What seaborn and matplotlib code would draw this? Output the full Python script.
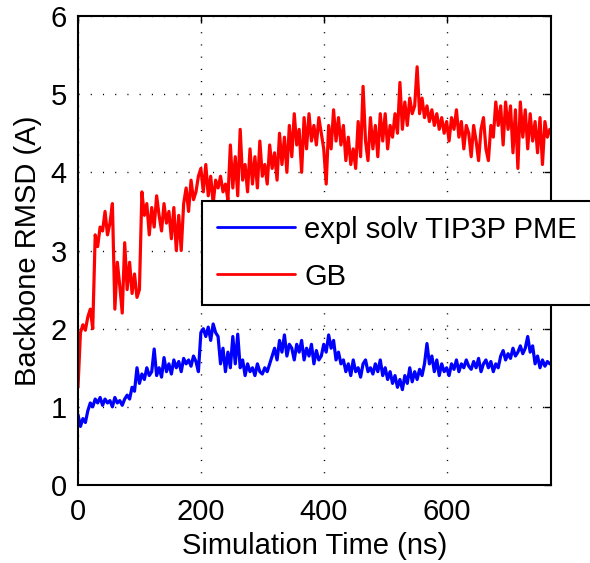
import numpy as np
import pandas as pd
import seaborn as sns
import matplotlib.pyplot as plt

# время моделирования, шаг 4 нс
time_ns = np.arange(0, 772, 4)

# RMSD, явный растворитель
rmsd_expl = [
    0.9, 0.75, 0.85, 0.8, 0.95, 1.05, 1.0, 1.1, 1.05, 1.12,
    1.02, 1.1, 1.05, 1.08, 1.0, 1.12, 1.05, 1.08, 1.02, 1.1,
    1.15, 1.1, 1.25, 1.2, 1.5, 1.3, 1.42, 1.35, 1.5, 1.4,
    1.45, 1.74, 1.4, 1.5, 1.38, 1.63, 1.45, 1.55, 1.42, 1.6,
    1.5, 1.58, 1.45, 1.62, 1.55, 1.6, 1.52, 1.65, 1.58, 1.45,
    1.95, 2.0, 1.9, 2.02, 1.85, 2.06, 1.95, 1.9, 1.55, 1.75,
    1.45, 1.7, 1.5, 1.9, 1.55, 1.93, 1.5, 1.6, 1.4, 1.55,
    1.45, 1.5, 1.4, 1.55, 1.45, 1.42, 1.5, 1.45, 1.55, 1.65,
    1.75, 1.6, 1.85, 1.7, 1.92, 1.65, 1.8, 1.75, 1.6, 1.8,
    1.7, 1.85, 1.6, 1.75, 1.65, 1.8, 1.55, 1.72, 1.6, 1.65,
    1.8, 1.7, 1.92, 1.75, 1.85, 1.6, 1.7, 1.55, 1.6, 1.45,
    1.55, 1.4, 1.6, 1.45, 1.5, 1.38, 1.55, 1.6, 1.45, 1.5,
    1.42, 1.55, 1.45, 1.6, 1.4, 1.5, 1.35, 1.45, 1.3, 1.4,
    1.25, 1.35, 1.22, 1.4, 1.3, 1.5, 1.32, 1.45, 1.35, 1.48,
    1.4, 1.55, 1.81, 1.55, 1.65, 1.45, 1.6, 1.4, 1.55, 1.45,
    1.5, 1.4, 1.55, 1.48, 1.6, 1.45, 1.55, 1.5, 1.6, 1.52,
    1.48, 1.58, 1.5, 1.62, 1.45, 1.55, 1.6, 1.5, 1.58, 1.45,
    1.55, 1.5, 1.65, 1.72, 1.6, 1.68, 1.62, 1.75, 1.65, 1.7,
    1.78, 1.68, 1.75, 1.9, 1.7, 1.78, 1.55, 1.65, 1.5, 1.6,
    1.52, 1.58, 1.55,
]

# RMSD, GB
rmsd_gb = [
    1.25, 1.95, 2.05, 1.98, 2.15, 2.25, 2.0, 3.2, 3.05, 3.3,
    3.25, 3.5, 3.2, 3.35, 3.6, 2.25, 2.85, 2.55, 2.2, 3.1,
    2.5, 2.85, 2.45, 2.7, 2.4, 2.5, 3.75, 3.45, 3.6, 3.2,
    3.55, 3.3, 3.7, 3.45, 3.25, 3.6, 3.35, 3.5, 3.15, 3.55,
    3.0, 3.45, 3.0, 3.6, 3.8, 3.5, 3.9, 3.65, 3.75, 3.95,
    4.05, 3.75, 4.1, 3.7, 3.95, 3.6, 3.9, 3.8, 3.95, 3.75,
    3.85, 3.65, 4.35, 3.8, 4.2, 3.7, 4.55, 3.9, 4.1, 3.75,
    4.3, 3.85, 4.2, 3.8, 4.4, 3.95, 4.1, 3.85, 4.35, 4.05,
    4.25, 3.9, 4.5, 4.1, 4.45, 4.0, 4.6, 4.2, 4.75, 4.35,
    4.55, 4.0, 4.7, 4.3, 4.75, 4.4, 4.6, 4.35, 4.7, 4.5,
    4.3, 3.85, 4.6, 4.3, 4.8, 4.4, 4.7, 4.35, 4.6, 4.15,
    4.45, 4.1, 4.3, 4.05, 4.65, 4.2, 5.1, 4.4, 4.15, 4.7,
    4.3, 4.6, 4.2, 4.75, 4.4, 4.75, 4.3, 4.6, 4.45, 4.75,
    4.5, 5.15, 4.55, 4.9, 4.6, 4.95, 4.75, 4.85, 5.35, 4.75,
    4.95, 4.7, 4.85, 4.65, 4.8, 4.6, 4.75, 4.55, 4.7, 4.5,
    4.65, 4.4, 4.7, 4.55, 4.8, 4.45, 4.65, 4.3, 4.6, 4.5,
    4.2, 4.6, 4.4, 4.15, 4.55, 4.7, 4.3, 4.15, 4.6, 4.45,
    4.9, 4.6, 4.85, 4.35, 4.9, 4.55, 4.85, 4.25, 4.8, 4.05,
    4.9, 4.45, 4.8, 4.3, 4.75, 4.4, 4.65, 4.25, 4.7, 4.1,
    4.65, 4.45, 4.55,
]

labels = ['expl solv TIP3P PME', 'GB']
colors = ['#0000ff', '#ff0000']

df = pd.concat([
    pd.DataFrame({'t': time_ns, 'rmsd': rmsd_expl, 'run': labels[0]}),
    pd.DataFrame({'t': time_ns, 'rmsd': rmsd_gb, 'run': labels[1]}),
])

sns.set_style('white')
plt.rcParams['font.family'] = ['Liberation Sans', 'DejaVu Sans']
plt.rcParams['text.color'] = 'black'
plt.rcParams['axes.labelcolor'] = 'black'

fig = plt.figure(figsize=(5.9, 5.63), dpi=100)
ax = fig.add_axes([0.1322, 0.1385, 0.8018, 0.8331])

sns.lineplot(data=df, x='t', y='rmsd', hue='run', hue_order=labels,
             palette=colors, linewidth=2.3, ax=ax, legend=False)

ax.set_xlim(0, 770)
ax.set_ylim(0, 6)
ax.set_xticks([0, 200, 400, 600])
ax.set_yticks([0, 1, 2, 3, 4, 5, 6])
ax.tick_params(direction='in', length=5, width=1, top=True, right=True,
               labelsize=21, colors='black')
ax.tick_params(axis='x', pad=9)
ax.tick_params(axis='y', pad=8)
ax.grid(True, color='black', linestyle=(0, (0.8, 8)), linewidth=1.0)
for s in ax.spines.values():
    s.set_color('black')
    s.set_linewidth(1.5)

ax.set_xlabel('Simulation Time (ns)', fontsize=21, labelpad=5)
ax.set_ylabel('Backbone RMSD (A)', fontsize=21, labelpad=6)

handles = [plt.Line2D([], [], color=c, linewidth=2.0) for c in colors]
leg = ax.legend(handles, labels, loc='upper left',
                bbox_to_anchor=(202 / 590, 1 - 201 / 563),
                bbox_transform=fig.transFigure, borderaxespad=0,
                fontsize=21, handlelength=2.7, handletextpad=0.3,
                labelspacing=0.65, borderpad=0.5, fancybox=False,
                framealpha=1, edgecolor='black')
leg.get_frame().set_linewidth(1.5)

fig.savefig('out.png', dpi=100)
